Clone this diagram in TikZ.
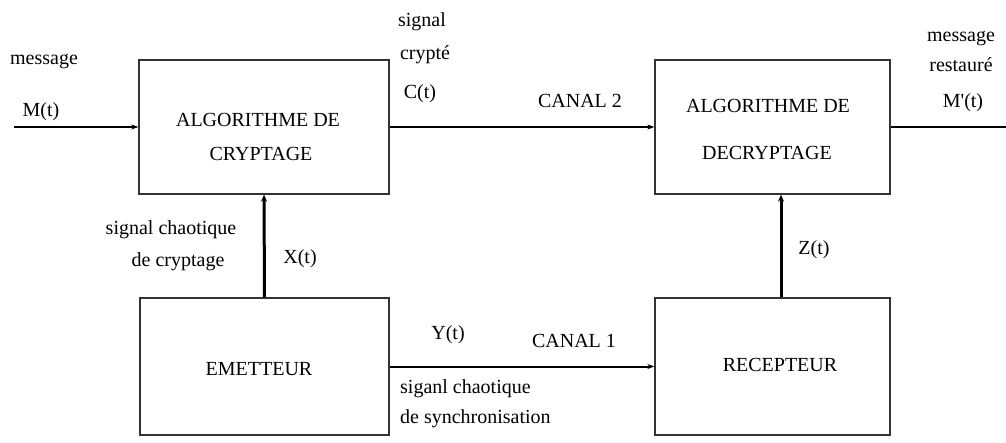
\documentclass[tikz,border=0pt]{standalone}
\usepackage{fontspec}
\setmainfont{Liberation Serif}
\newfontfamily\straightfont{Liberation Serif}[Ligatures=TeXOff]
\usetikzlibrary{arrows.meta}
\begin{document}
\begin{tikzpicture}[x=1pt,y=-1pt,
  box/.style={draw=black!80,line width=1.3pt,inner sep=0pt},
  txt/.style={font=\fontsize{20}{24}\selectfont,anchor=base,inner sep=0pt},
  arr/.style={line width=2pt,-{Stealth[length=7pt,width=5pt]}},
  varr/.style={line width=3pt,-{Stealth[length=7pt,width=6pt]}},
  line/.style={line width=2pt}]
\useasboundingbox (0,0) rectangle (1006,443);
% boxes
\node[box,minimum width=250pt,minimum height=134pt] (crypt) at (264,127) {};
\node[box,minimum width=235pt,minimum height=134pt] (decrypt) at (772.5,127) {};
\node[box,minimum width=249pt,minimum height=137pt] (emet) at (264.5,366.5) {};
\node[box,minimum width=235pt,minimum height=137pt] (recep) at (772.5,366.5) {};
% box texts
\node[txt] (t1a) at (258,127) {ALGORITHME DE};
\node[txt] (t1b) at (261,161) {CRYPTAGE};
\node[txt] (t2a) at (768,113) {ALGORITHME DE};
\node[txt] (t2b) at (767,160) {DECRYPTAGE};
\node[txt] (t3) at (259,375) {EMETTEUR};
\node[txt] (t4) at (780,371) {RECEPTEUR};
% connectors
\coordinate (min) at (14,127);
\coordinate (mout) at (1006,127);
\coordinate (zx) at (781,0);
\draw[arr] (min) -- (crypt.west);
\draw[arr] (crypt.east) -- (decrypt.west);
\draw[line] (decrypt.east) -- (mout);
\draw[arr] (emet.east) -- (recep.west);
\draw[varr] (emet.north) -- (crypt.south);
\draw[varr] (recep.north -| zx) -- (decrypt.south -| zx);
% labels
\node[txt] (lmsg) at (44,65) {message};
\node[txt] (lmt) at (41,117) {M(t)};
\node[txt] (lsig) at (422,27) {signal};
\node[txt] (lcry) at (425,60) {crypté};
\node[txt] (lct) at (420,99) {C(t)};
\node[txt] (lc2) at (580,108) {CANAL 2};
\node[txt] (lmsg2) at (961,42) {message};
\node[txt] (lres) at (961,72) {restauré};
\node[txt] (lmpt) at (963,108) {\straightfont M'(t)};
\node[txt] (lsc) at (171,235) {signal chaotique};
\node[txt] (ldc) at (178,267) {de cryptage};
\node[txt] (lxt) at (300,264) {X(t)};
\node[txt] (lyt) at (448,340) {Y(t)};
\node[txt] (lc1) at (574,348) {CANAL 1};
\node[txt,anchor=base west] (lsy1) at (400,393) {siganl chaotique};
\node[txt,anchor=base west] (lsy2) at (400,423) {de synchronisation};
\node[txt] (lzt) at (814,255) {Z(t)};
\end{tikzpicture}
\end{document}
